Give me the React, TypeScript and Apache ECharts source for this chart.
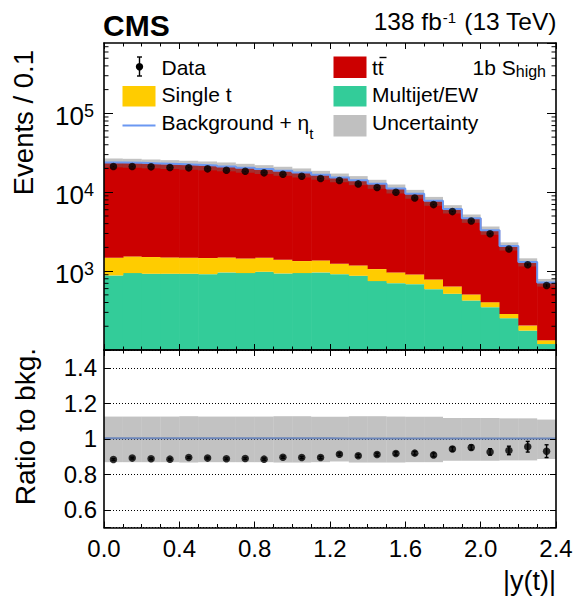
import { useEffect, useRef } from "react";
import * as echarts from "echarts";

// ---------- data ----------
const binEdges = [0.0, 0.1, 0.2, 0.3, 0.4, 0.5, 0.6, 0.7, 0.8, 0.9, 1.0, 1.1, 1.2, 1.3, 1.4, 1.5, 1.6, 1.7, 1.8, 1.9, 2.0, 2.1, 2.2, 2.3, 2.4];
const multijetEW = [882, 944, 926, 926, 926, 916, 963, 944, 982, 935, 944, 963, 916, 873, 747, 704, 684, 591, 516, 424, 349, 253, 176, 119];
const singleTop = [597, 593, 582, 567, 553, 548, 530, 506, 497, 460, 397, 405, 324, 308, 314, 259, 224, 193, 123, 82, 55, 34, 28, 14];
const ttbar = [22340, 22050, 21630, 21200, 20770, 20360, 19710, 18930, 18120, 17270, 16440, 15240, 14120, 13030, 11700, 10170, 8620, 6980, 5500, 4170, 2890, 1790, 1100, 585];
const etaT = [70, 68, 66, 64, 62, 60, 57, 54, 51, 48, 45, 41, 37, 33, 29, 25, 21, 17, 13, 10, 7, 5, 3, 2];
const uncUp = [1.125, 1.125, 1.125, 1.125, 1.127, 1.125, 1.125, 1.125, 1.125, 1.127, 1.127, 1.124, 1.124, 1.127, 1.127, 1.125, 1.124, 1.124, 1.117, 1.117, 1.117, 1.115, 1.115, 1.108];
const uncDown = [0.868, 0.868, 0.868, 0.868, 0.866, 0.868, 0.868, 0.868, 0.868, 0.866, 0.866, 0.868, 0.872, 0.866, 0.866, 0.866, 0.868, 0.868, 0.876, 0.876, 0.876, 0.878, 0.878, 0.886];
const dataCounts = [21200, 21200, 20990, 20590, 20380, 19790, 19040, 18490, 17610, 16930, 15970, 14920, 14070, 12760, 11460, 10000, 8470, 6970, 5680, 4320, 2980, 1905, 1205, 658];
const dataErr = [146, 146, 145, 143, 143, 141, 138, 136, 133, 130, 126, 122, 119, 113, 107, 100, 92, 83, 75, 66, 55, 44, 35, 26];
const ratio = [0.883, 0.891, 0.887, 0.885, 0.894, 0.891, 0.887, 0.889, 0.885, 0.896, 0.894, 0.894, 0.913, 0.904, 0.911, 0.917, 0.919, 0.909, 0.942, 0.951, 0.926, 0.934, 0.955, 0.930];
const ratioErr = [0.005, 0.005, 0.005, 0.005, 0.005, 0.005, 0.005, 0.005, 0.006, 0.006, 0.006, 0.007, 0.007, 0.008, 0.008, 0.009, 0.010, 0.011, 0.012, 0.014, 0.018, 0.024, 0.030, 0.036];
const sigRatio = [1.003, 1.003, 1.003, 1.003, 1.003, 1.003, 1.003, 1.003, 1.003, 1.003, 1.003, 1.003, 1.002, 1.002, 1.002, 1.002, 1.002, 1.002, 1.002, 1.002, 1.002, 1.002, 1.002, 1.002];
const logMinorTicks = [200, 300, 400, 500, 600, 700, 800, 900, 2000, 3000, 4000, 5000, 6000, 7000, 8000, 9000, 20000, 30000, 40000, 50000, 60000, 70000, 80000, 90000, 200000, 300000, 400000, 500000, 600000, 700000];
const xTickLabels = ["0.0", "0.4", "0.8", "1.2", "1.6", "2.0", "2.4"];

const yMin = 100;
const yMax = 780000;
const xMin = 0;
const xMax = 2.4;

// ---------- styles ----------
const F = '"Liberation Sans", Arial, Helvetica, sans-serif';
const GREEN = "#33CC99";
const YELLOW = "#FFCC00";
const RED = "#CC0000";
const BLUE = "#6b98f2";
const BAND = "rgba(110,110,110,0.42)";

// ---------- derived tables for the library ----------
const centers = binEdges.slice(0, -1).map((lo, i) => (lo + binEdges[i + 1]) / 2);
const cumY = multijetEW.map((v, i) => v + singleTop[i]);
const total = cumY.map((v, i) => v + ttbar[i]);
const greenRects = multijetEW.map((v, i) => [binEdges[i], binEdges[i + 1], yMin, v]);
const yellowRects = singleTop.map((v, i) => [binEdges[i], binEdges[i + 1], multijetEW[i], cumY[i]]);
const redRects = ttbar.map((v, i) => [binEdges[i], binEdges[i + 1], cumY[i], total[i]]);
const bandRects = total.map((t, i) => [binEdges[i], binEdges[i + 1], t * uncDown[i], t * uncUp[i]]);
const sigLine = total.map((t, i) => [binEdges[i], t + etaT[i]]);
sigLine.push([binEdges[binEdges.length - 1], total[total.length - 1] + etaT[etaT.length - 1]]);
const dataPts = dataCounts.map((v, i) => [centers[i], v]);
const dataBars = dataCounts.map((v, i) => [centers[i], v - dataErr[i], v + dataErr[i]]);
const ratioPts = ratio.map((v, i) => [centers[i], v]);
const ratioBars = ratio.map((v, i) => [centers[i], v - ratioErr[i], v + ratioErr[i]]);
const ratioBand = uncUp.map((u, i) => [binEdges[i], binEdges[i + 1], uncDown[i], u]);
const sigRatioLine = sigRatio.map((v, i) => [binEdges[i], v]);
sigRatioLine.push([binEdges[binEdges.length - 1], sigRatio[sigRatio.length - 1]]);

const rectRender = (color: string, overlap: number) => (_p: any, api: any) => {
  const p0 = api.coord([api.value(0), api.value(3)]);
  const p1 = api.coord([api.value(1), api.value(2)]);
  return {
    type: "rect",
    shape: { x: p0[0], y: p0[1], width: p1[0] - p0[0] + overlap, height: p1[1] - p0[1] },
    style: { fill: color },
  };
};

const errRender = (cap: number) => (_p: any, api: any) => {
  const lo = api.coord([api.value(0), api.value(1)]);
  const hi = api.coord([api.value(0), api.value(2)]);
  const st = { stroke: "#000", lineWidth: 1.4 };
  return {
    type: "group",
    children: [
      { type: "line", shape: { x1: lo[0], y1: lo[1], x2: hi[0], y2: hi[1] }, style: st },
      { type: "line", shape: { x1: lo[0] - cap, y1: lo[1], x2: lo[0] + cap, y2: lo[1] }, style: st },
      { type: "line", shape: { x1: hi[0] - cap, y1: hi[1], x2: hi[0] + cap, y2: hi[1] }, style: st },
    ],
  };
};

const minorTickRender = (_p: any, api: any) => {
  const v = api.value(1);
  const l = api.coord([xMin, v]);
  const r = api.coord([xMax, v]);
  const st = { stroke: "#000", lineWidth: 1 };
  return {
    type: "group",
    children: [
      { type: "line", shape: { x1: l[0], y1: l[1], x2: l[0] + 4.5, y2: l[1] }, style: st },
      { type: "line", shape: { x1: r[0] - 4.5, y1: r[1], x2: r[0], y2: r[1] }, style: st },
    ],
  };
};

const frameLine = { show: true, onZero: false, lineStyle: { color: "#000", width: 1.6 } };

const xAxisBase = (grid: number, pos: string, labels: boolean) => ({
  gridIndex: grid,
  type: "value",
  position: pos,
  min: xMin,
  max: xMax,
  interval: 0.4,
  z: 10,
  axisLine: frameLine,
  axisTick: { show: true, inside: true, length: 6, lineStyle: { color: "#000", width: 1 } },
  minorTick: { show: true, splitNumber: 4, length: 3.5, lineStyle: { color: "#000", width: 1 } },
  splitLine: { show: false },
  minorSplitLine: { show: false },
  axisLabel: labels
    ? {
        show: true,
        margin: 9,
        fontSize: 24,
        fontFamily: F,
        color: "#000",
        formatter: (v: number) => {
          const idx = Math.round(v / 0.4);
          return xTickLabels[idx] ?? "";
        },
      }
    : { show: false },
});

const logAxis = (pos: string, labels: boolean) => ({
  gridIndex: 0,
  type: "log",
  logBase: 10,
  position: pos,
  min: yMin,
  max: yMax,
  z: 10,
  axisLine: frameLine,
  axisTick: { show: true, inside: true, length: 9, lineStyle: { color: "#000", width: 1 } },
  splitLine: { show: false },
  axisLabel: labels
    ? {
        show: true,
        margin: 10,
        showMinLabel: false,
        showMaxLabel: false,
        fontFamily: F,
        color: "#000",
        formatter: (v: number) => {
          const e = Math.round(Math.log10(v));
          if (Math.abs(v - Math.pow(10, e)) / v > 1e-6 || e <= 2) return "";
          return `{b|10}{s|${e}}`;
        },
        rich: {
          b: { fontSize: 26, fontFamily: F, color: "#000", padding: [6, 0, 0, 0] },
          s: { fontSize: 18, fontFamily: F, color: "#000", padding: [0, 0, 5, 0] },
        },
      }
    : { show: false },
});

const ratioAxisFrame = (pos: string) => ({
  gridIndex: 1,
  type: "value",
  position: pos,
  min: 0.5,
  max: 1.5,
  splitNumber: 5,
  z: 10,
  axisLine: frameLine,
  axisTick: { show: true, inside: true, length: 6, lineStyle: { color: "#000", width: 1 } },
  axisLabel: { show: false },
  splitLine: { show: false },
});

const txt = (x: number, y: number, text: string, size: number, extra: any = {}) => ({
  type: "text",
  x,
  y,
  z: 20,
  ...extra,
  style: {
    text,
    fill: "#000",
    fontSize: size,
    fontFamily: F,
    align: "left",
    verticalAlign: "middle",
    ...(extra.style || {}),
  },
});

const option: any = {
  animation: false,
  textStyle: { fontFamily: F },
  grid: [
    { left: 104, top: 43, width: 452, height: 307, show: false },
    { left: 104, top: 350, width: 452, height: 177.5, show: false },
  ],
  xAxis: [xAxisBase(0, "bottom", false), xAxisBase(0, "top", false), xAxisBase(1, "bottom", true), xAxisBase(1, "top", false)],
  yAxis: [
    logAxis("left", true),
    logAxis("right", false),
    {
      gridIndex: 1,
      type: "value",
      position: "left",
      min: 0.5,
      max: 1.5,
      splitNumber: 5,
      z: 0,
      axisLine: { show: false },
      axisTick: { show: false },
      axisLabel: {
        show: true,
        margin: 7,
        fontSize: 24,
        fontFamily: F,
        color: "#000",
        formatter: (v: number) => {
          if (v < 0.55 || v > 1.45) return "";
          if (Math.abs(v - 1) < 1e-6) return "1";
          return v.toFixed(1);
        },
      },
      splitLine: { show: true, lineStyle: { color: "#000", width: 1, type: [1, 2] } },
    },
    ratioAxisFrame("left"),
    ratioAxisFrame("right"),
  ],
  series: [
    { type: "custom", name: "Multijet/EW", xAxisIndex: 0, yAxisIndex: 0, z: 2, encode: { x: [0, 1], y: [2, 3] }, data: greenRects, renderItem: rectRender(GREEN, 0.6) },
    { type: "custom", name: "Single t", xAxisIndex: 0, yAxisIndex: 0, z: 2, encode: { x: [0, 1], y: [2, 3] }, data: yellowRects, renderItem: rectRender(YELLOW, 0.6) },
    { type: "custom", name: "ttbar", xAxisIndex: 0, yAxisIndex: 0, z: 2, encode: { x: [0, 1], y: [2, 3] }, data: redRects, renderItem: rectRender(RED, 0.6) },
    { type: "custom", name: "Uncertainty", xAxisIndex: 0, yAxisIndex: 0, z: 3, encode: { x: [0, 1], y: [2, 3] }, data: bandRects, renderItem: rectRender(BAND, 0) },
    { type: "line", name: "Background + eta_t", xAxisIndex: 0, yAxisIndex: 0, z: 4, step: "end", showSymbol: false, symbol: "none", data: sigLine, lineStyle: { color: BLUE, width: 2 } },
    { type: "custom", name: "Data err", xAxisIndex: 0, yAxisIndex: 0, z: 5, encode: { x: 0, y: [1, 2] }, data: dataBars, renderItem: errRender(0) },
    { type: "scatter", name: "Data", xAxisIndex: 0, yAxisIndex: 0, z: 5, symbol: "circle", symbolSize: 7.5, data: dataPts, itemStyle: { color: "#000" } },
    { type: "custom", name: "minor ticks", xAxisIndex: 0, yAxisIndex: 0, z: 11, encode: { x: 0, y: 1 }, data: logMinorTicks.map((v) => [xMin, v]), renderItem: minorTickRender },

    { type: "line", name: "ratio sig", xAxisIndex: 2, yAxisIndex: 2, z: 2, step: "end", showSymbol: false, symbol: "none", data: sigRatioLine, lineStyle: { color: BLUE, width: 2 } },
    { type: "custom", name: "ratio band", xAxisIndex: 2, yAxisIndex: 2, z: 3, encode: { x: [0, 1], y: [2, 3] }, data: ratioBand, renderItem: rectRender(BAND, 0) },
    { type: "custom", name: "ratio err", xAxisIndex: 2, yAxisIndex: 2, z: 5, encode: { x: 0, y: [1, 2] }, data: ratioBars, renderItem: errRender(2) },
    { type: "scatter", name: "ratio", xAxisIndex: 2, yAxisIndex: 2, z: 5, symbol: "circle", symbolSize: 7.5, data: ratioPts, itemStyle: { color: "#000" } },
  ],
  graphic: [
    txt(103, 25, "CMS", 30, { style: { fontWeight: "bold" } }),
    {
      type: "text",
      x: 556.5,
      y: 21,
      z: 20,
      style: {
        text: "{a|138 fb}{s|-1}{a| (13 TeV)}",
        align: "right",
        verticalAlign: "middle",
        fill: "#000",
        rich: {
          a: { fontSize: 24.5, fontFamily: F, fill: "#000" },
          s: { fontSize: 15, fontFamily: F, fill: "#000", padding: [0, 1, 8, 1] },
        },
      },
    },
    // legend symbols
    { type: "line", z: 20, shape: { x1: 139.5, y1: 57, x2: 139.5, y2: 76 }, style: { stroke: "#000", lineWidth: 1.4 } },
    { type: "line", z: 20, shape: { x1: 137, y1: 57, x2: 142, y2: 57 }, style: { stroke: "#000", lineWidth: 1.4 } },
    { type: "line", z: 20, shape: { x1: 137, y1: 76, x2: 142, y2: 76 }, style: { stroke: "#000", lineWidth: 1.4 } },
    { type: "circle", z: 20, shape: { cx: 139.5, cy: 66.7, r: 3.7 }, style: { fill: "#000" } },
    { type: "rect", z: 20, shape: { x: 122.5, y: 86, width: 33, height: 20.5 }, style: { fill: YELLOW } },
    { type: "line", z: 20, shape: { x1: 122.5, y1: 125.5, x2: 155.5, y2: 125.5 }, style: { stroke: BLUE, lineWidth: 2 } },
    { type: "rect", z: 20, shape: { x: 333.5, y: 56.5, width: 33, height: 21.5 }, style: { fill: RED } },
    { type: "rect", z: 20, shape: { x: 333.5, y: 86, width: 33, height: 20.5 }, style: { fill: GREEN } },
    { type: "rect", z: 20, shape: { x: 333.5, y: 115, width: 33, height: 21.5 }, style: { fill: "#C0C0C0" } },
    // legend texts
    txt(161.5, 67, "Data", 21),
    txt(161.5, 94, "Single t", 21),
    {
      type: "text",
      x: 161.5,
      y: 122.5,
      z: 20,
      style: {
        text: "{a|Background + η}{s|t}",
        align: "left",
        verticalAlign: "middle",
        fill: "#000",
        rich: {
          a: { fontSize: 21, fontFamily: F, fill: "#000" },
          s: { fontSize: 15, fontFamily: F, fill: "#000", padding: [22, 0, 0, 0] },
        },
      },
    },
    txt(372, 67, "tt", 21),
    { type: "line", z: 20, shape: { x1: 379.5, y1: 57.5, x2: 386.5, y2: 57.5 }, style: { stroke: "#000", lineWidth: 1.4 } },
    txt(372, 94, "Multijet/EW", 21),
    txt(372, 122.5, "Uncertainty", 21),
    {
      type: "text",
      x: 546,
      y: 67,
      z: 20,
      style: {
        text: "{a|1b S}{s|high}",
        align: "right",
        verticalAlign: "middle",
        fill: "#000",
        rich: {
          a: { fontSize: 21, fontFamily: F, fill: "#000" },
          s: { fontSize: 16, fontFamily: F, fill: "#000", padding: [9, 0, 0, 0] },
        },
      },
    },
    // axis titles
    txt(23, 50, "Events / 0.1", 27.5, { rotation: Math.PI / 2, style: { align: "right" } }),
    txt(25, 348, "Ratio to bkg.", 28, { rotation: Math.PI / 2, style: { align: "right" } }),
    txt(556, 581, "|y(t)|", 27, { style: { align: "right" } }),
  ],
};

export default function App() {
  const ref = useRef<HTMLDivElement>(null);
  useEffect(() => {
    if (!ref.current) return;
    const chart = echarts.init(ref.current, null, { renderer: "svg" });
    chart.setOption(option);
    return () => chart.dispose();
  }, []);
  return <div ref={ref} style={{ position: "absolute", left: 0, top: 0, width: 580, height: 604 }} />;
}
